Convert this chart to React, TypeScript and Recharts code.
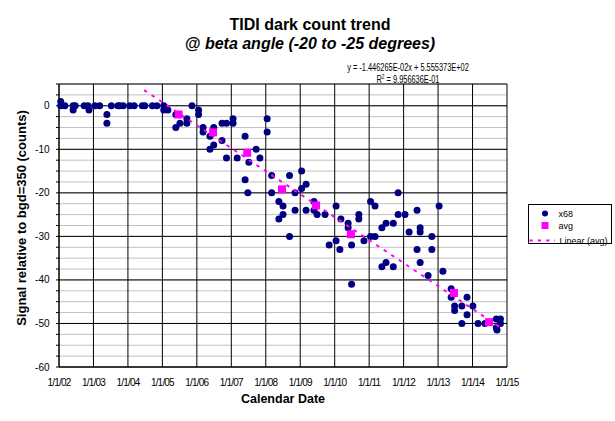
import React from 'react';
import {
  ScatterChart,
  Scatter,
  XAxis,
  YAxis,
  CartesianGrid,
} from 'recharts';

// x = decimal year, y = signal relative to bgd=350 (counts)
const X68: [number, number][] = [
  [2002.05, 1], [2002.05, 0], [2002.17, 0], [2002.41, 0], [2002.41, -1], [2002.47, 0],
  [2002.73, 0], [2002.84, 0], [2002.87, -1], [2003.04, 0], [2003.18, 0], [2003.39, -2],
  [2003.39, -4], [2003.52, 0], [2003.71, 0], [2003.76, 0], [2003.86, 0], [2004.05, 0],
  [2004.18, 0], [2004.42, 0], [2004.49, 0], [2004.71, 0], [2004.84, 0], [2005.04, 0],
  [2005.04, -1], [2005.16, -1], [2005.39, -2], [2005.39, -5], [2005.51, -4], [2005.71, -3],
  [2005.71, -4], [2005.86, 0], [2006.05, -1], [2006.05, -2], [2006.18, -5], [2006.18, -6],
  [2006.38, -7], [2006.38, -10], [2006.49, -5], [2006.49, -9], [2006.73, -4], [2006.73, -8],
  [2006.86, -4], [2006.86, -12], [2007.05, -3], [2007.05, -4], [2007.17, -12], [2007.40, -7],
  [2007.40, -17], [2007.48, -20], [2007.51, -13], [2007.72, -10], [2007.83, -12], [2008.04, -3],
  [2008.04, -6], [2008.17, -16], [2008.17, -20], [2008.38, -22], [2008.38, -26], [2008.50, -23],
  [2008.50, -25], [2008.69, -16], [2008.69, -30], [2008.85, -20], [2008.85, -24], [2009.04, -15],
  [2009.04, -19], [2009.17, -18], [2009.17, -24], [2009.40, -22], [2009.40, -24], [2009.49, -25],
  [2009.72, -25], [2009.84, -32], [2010.04, -23], [2010.04, -31], [2010.15, -33], [2010.18, -26],
  [2010.39, -27], [2010.39, -28], [2010.49, -32], [2010.49, -41], [2010.70, -25], [2010.70, -26],
  [2010.85, -31], [2011.04, -22], [2011.04, -30], [2011.17, -23], [2011.17, -30], [2011.37, -28],
  [2011.37, -37], [2011.49, -27], [2011.49, -36], [2011.70, -27], [2011.70, -37], [2011.84, -20],
  [2011.84, -25], [2012.04, -25], [2012.16, -29], [2012.39, -24], [2012.39, -33], [2012.48, -28],
  [2012.48, -29], [2012.48, -36], [2012.71, -39], [2012.82, -30], [2012.82, -33], [2013.03, -23],
  [2013.14, -38], [2013.38, -42], [2013.38, -44], [2013.48, -46], [2013.48, -47], [2013.69, -46],
  [2013.69, -50], [2013.84, -44], [2013.84, -48], [2014.01, -46], [2014.16, -50], [2014.36, -50],
  [2014.69, -49], [2014.69, -51], [2014.71, -51.5], [2014.81, -49], [2014.81, -50],
];

const AVG: [number, number][] = [
  [2005.47, -2.0], [2006.47, -6.1], [2007.46, -10.8], [2008.47, -19.2],
  [2009.46, -22.9], [2010.47, -29.5], [2013.46, -43.0], [2014.48, -49.7],
];

// end points of the linear trendline of avg, as drawn
const TREND: [number, number][] = [
  [2004.47, 3.6], [2014.84, -51.1],
];

const YEARS = [2002, 2003, 2004, 2005, 2006, 2007, 2008, 2009, 2010, 2011, 2012, 2013, 2014, 2015];
const Y_TICKS = [
  -60, -57.5, -55, -52.5, -50, -47.5, -45, -42.5, -40, -37.5, -35, -32.5, -30, -27.5,
  -25, -22.5, -20, -17.5, -15, -12.5, -10, -7.5, -5, -2.5, 0, 2.5, 5,
];
const Y_MAJOR = [-60, -50, -40, -30, -20, -10, 0, 5];

const toPoints = (rows: [number, number][]) => rows.map(([x, y]) => ({ x, y }));

const FONT = '"Liberation Sans", Arial, sans-serif';

const Dot = (props: any) => <circle cx={props.cx} cy={props.cy} r={3.5} fill="#000080" />;
const Square = (props: any) => (
  <rect x={props.cx - 4} y={props.cy - 4} width={8} height={8} fill="#FF00FF" />
);

const narrow: React.CSSProperties = {
  position: 'absolute',
  left: 308,
  width: 200,
  textAlign: 'center',
  fontSize: 10,
  lineHeight: '12px',
  whiteSpace: 'nowrap',
  transform: 'scaleX(0.74)',
  transformOrigin: '50% 50%',
};

const App = () => {
  return (
    <div style={{ position: 'absolute', left: 0, top: 0, width: 615, height: 421, background: '#fff', fontFamily: FONT }}>
      <ScatterChart width={615} height={421} margin={{ top: 84, right: 108, bottom: 24, left: 14 }}>
        <CartesianGrid stroke="#C0C0C0" vertical={false} horizontalValues={Y_TICKS} />
        <CartesianGrid stroke="#000" horizontalValues={Y_MAJOR} verticalValues={YEARS} />
        <XAxis
          type="number"
          dataKey="x"
          domain={[2002, 2015]}
          ticks={YEARS}
          interval={0}
          tickFormatter={(v: number) => `1/1/${String(v % 100).padStart(2, '0')}`}
          tickLine={false}
          tickMargin={6}
          height={30}
          axisLine={{ stroke: '#000' }}
          tick={{ fill: '#000', fontSize: 10, fontFamily: FONT, letterSpacing: -0.8 }}
        />
        <YAxis
          type="number"
          dataKey="y"
          domain={[-60, 5]}
          ticks={Y_TICKS}
          interval={0}
          width={45}
          tickSize={3}
          tickMargin={6.5}
          tickFormatter={(v: number) => (v % 10 === 0 ? String(v) : '')}
          axisLine={{ stroke: '#000' }}
          tickLine={{ stroke: '#000' }}
          tick={{ fill: '#000', fontSize: 10, fontFamily: FONT }}
        />
        <Scatter name="x68" data={toPoints(X68)} shape={Dot} isAnimationActive={false} />
        <Scatter name="avg" data={toPoints(AVG)} shape={Square} isAnimationActive={false} />
        <Scatter
          name="Linear (avg)"
          data={toPoints(TREND)}
          line={{ stroke: '#FF00FF', strokeWidth: 2, strokeDasharray: '3.5 5.5' }}
          shape={() => <g />}
          isAnimationActive={false}
        />
      </ScatterChart>

      <div style={{ position: 'absolute', left: 110, width: 400, top: 16, textAlign: 'center', fontWeight: 'bold', fontSize: 16, lineHeight: '18px', whiteSpace: 'nowrap' }}>
        TIDI dark count trend
      </div>
      <div style={{ position: 'absolute', left: 110, width: 400, top: 34.5, textAlign: 'center', fontWeight: 'bold', fontStyle: 'italic', fontSize: 16, lineHeight: '18px', whiteSpace: 'nowrap' }}>
        @ beta angle (-20 to -25 degrees)
      </div>

      <div style={{ ...narrow, top: 62 }}>y = -1.446265E-02x + 5.555373E+02</div>
      <div style={{ ...narrow, top: 74 }}>
        R<sup style={{ fontSize: 6.5, verticalAlign: 'top', lineHeight: '6px' }}>2</sup> = 9.956636E-01
      </div>

      <div style={{ position: 'absolute', left: 183, width: 200, top: 392, textAlign: 'center', fontWeight: 'bold', fontSize: 12.5, lineHeight: '15px', whiteSpace: 'nowrap' }}>
        Calendar Date
      </div>
      <div style={{ position: 'absolute', left: 21.7 - 130, width: 260, top: 217.7 - 8, textAlign: 'center', fontWeight: 'bold', fontSize: 13, lineHeight: '16px', whiteSpace: 'nowrap', transform: 'rotate(-90deg)' }}>
        Signal relative to bgd=350 (counts)
      </div>

      <div style={{ position: 'absolute', left: 527.5, top: 204, width: 82, height: 38, border: '1px solid #000', background: '#fff', fontSize: 9, lineHeight: '12px' }}>
        <svg width={30} height={38} style={{ position: 'absolute', left: 0, top: 0 }}>
          <circle cx={16} cy={8.5} r={3} fill="#000080" />
          <rect x={12.5} y={17} width={7} height={7} fill="#FF00FF" />
          <line x1={0.5} y1={35.5} x2={26} y2={35.5} stroke="#FF00FF" strokeWidth={2} strokeDasharray="3.3 5" />
        </svg>
        <div style={{ position: 'absolute', left: 30, top: 2.5 }}>x68</div>
        <div style={{ position: 'absolute', left: 30, top: 14.5 }}>avg</div>
        <div style={{ position: 'absolute', left: 31, top: 29.5, whiteSpace: 'nowrap' }}>Linear (avg)</div>
      </div>
    </div>
  );
};

export default App;
